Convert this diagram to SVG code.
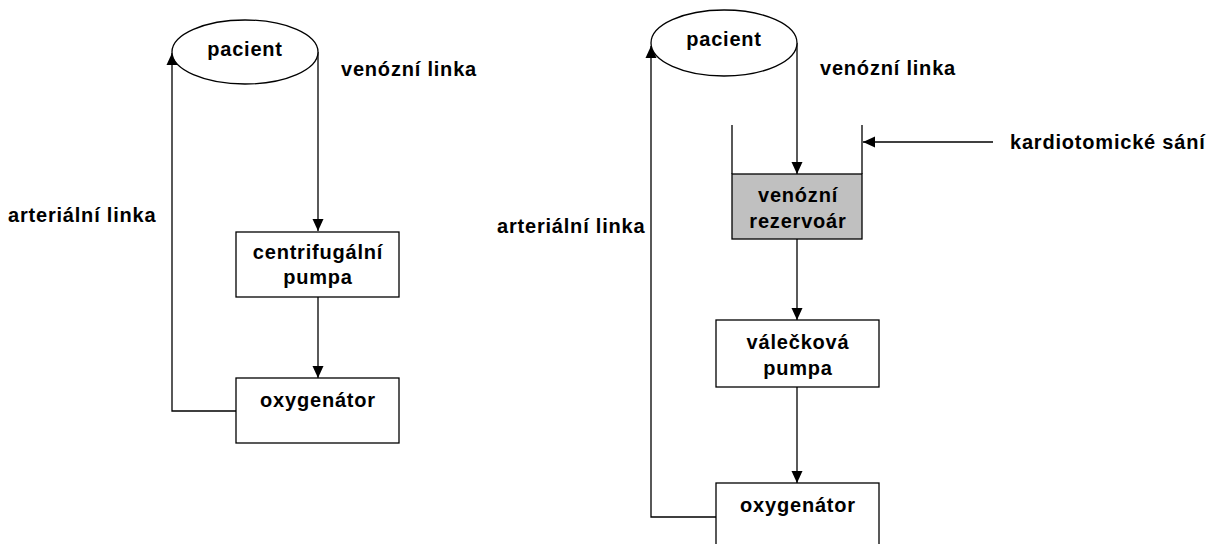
<svg xmlns="http://www.w3.org/2000/svg" width="1208" height="544" viewBox="0 0 1208 544">
  <style>
    .shape { fill: #ffffff; stroke: #000000; stroke-width: 1.3; }
    .tank { fill: #c0c0c0; stroke: #000000; stroke-width: 1.3; }
    .line { fill: none; stroke: #000000; stroke-width: 1.3; }
    .lbl { font-family: "Liberation Sans", Arial, sans-serif; font-weight: bold; font-size: 20px; letter-spacing: 0.8px; fill: #000000; }
    .mid { text-anchor: middle; }
  </style>
  <defs>
    <marker id="arrow" viewBox="0 0 12 12" refX="12" refY="6" markerWidth="12" markerHeight="12" markerUnits="userSpaceOnUse" orient="auto">
      <path d="M0,0.5 L12,6 L0,11.5 Z" fill="#000000"/>
    </marker>
  </defs>
  <rect width="1208" height="544" fill="#ffffff"/>

  <!-- circuit with centrifugal pump -->
  <g id="connectors-left">
    <path class="line" d="M318,52 L318,231" marker-end="url(#arrow)"/>
    <path class="line" d="M318,297 L318,378" marker-end="url(#arrow)"/>
    <path class="line" d="M236,411 L172,411 L172,53" marker-end="url(#arrow)"/>
  </g>
  <g id="patient-left">
    <ellipse class="shape" cx="245" cy="52" rx="73" ry="32"/>
    <text class="lbl mid" x="245" y="56">pacient</text>
  </g>
  <g id="pump-left">
    <rect class="shape" x="236" y="232" width="163" height="65"/>
    <text class="lbl mid" x="318" y="259">centrifugální</text>
    <text class="lbl mid" x="318" y="284">pumpa</text>
  </g>
  <g id="oxygenator-left">
    <rect class="shape" x="236" y="378" width="163" height="65"/>
    <text class="lbl mid" x="318" y="407">oxygenátor</text>
  </g>
  <text class="lbl" x="341" y="76">venózní linka</text>
  <text class="lbl" x="8" y="222">arteriální linka</text>

  <!-- circuit with roller pump and venous reservoir -->
  <g id="connectors-right">
    <path class="line" d="M797,43 L797,174" marker-end="url(#arrow)"/>
    <path class="line" d="M797,239 L797,320" marker-end="url(#arrow)"/>
    <path class="line" d="M797,387 L797,483" marker-end="url(#arrow)"/>
    <path class="line" d="M716,517 L651,517 L651,46" marker-end="url(#arrow)"/>
    <path class="line" d="M993,142 L863,142" marker-end="url(#arrow)"/>
  </g>
  <g id="patient-right">
    <ellipse class="shape" cx="724" cy="43" rx="73" ry="33"/>
    <text class="lbl mid" x="724" y="46">pacient</text>
  </g>
  <g id="reservoir">
    <path class="line" d="M732,125 L732,174 M862,125 L862,174"/>
    <rect class="tank" x="732" y="174" width="130" height="65"/>
    <text class="lbl mid" x="798" y="202">venózní</text>
    <text class="lbl mid" x="798" y="228">rezervoár</text>
  </g>
  <g id="pump-right">
    <rect class="shape" x="716" y="320" width="163" height="67"/>
    <text class="lbl mid" x="798" y="349">válečková</text>
    <text class="lbl mid" x="798" y="375">pumpa</text>
  </g>
  <g id="oxygenator-right">
    <rect class="shape" x="716" y="483" width="163" height="70"/>
    <text class="lbl mid" x="798" y="512">oxygenátor</text>
  </g>
  <text class="lbl" x="820" y="75">venózní linka</text>
  <text class="lbl" x="497" y="233">arteriální linka</text>
  <text class="lbl" x="1010" y="149">kardiotomické sání</text>
</svg>
